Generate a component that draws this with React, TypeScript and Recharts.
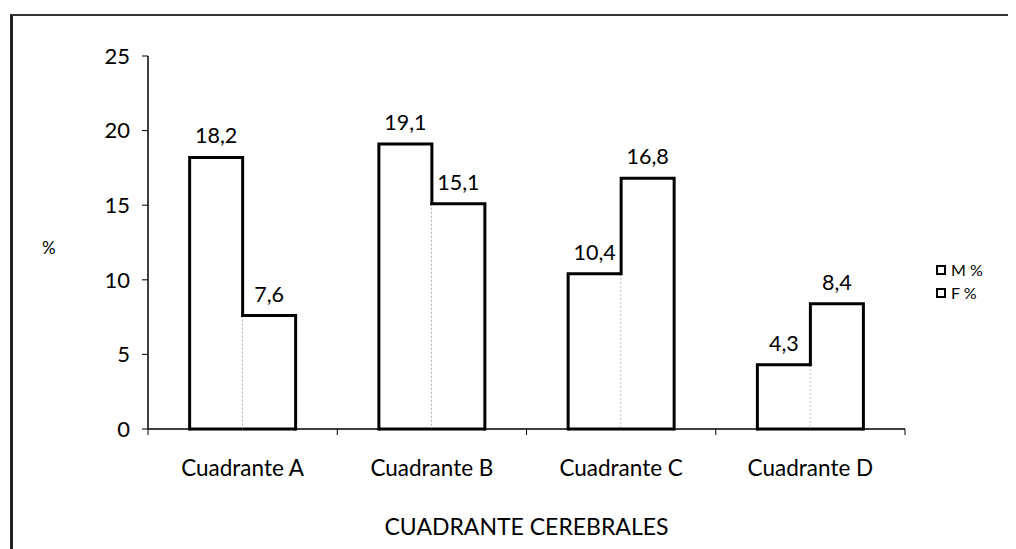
import { BarChart, Bar, XAxis, YAxis, LabelList } from 'recharts';

const categories = ['Cuadrante A', 'Cuadrante B', 'Cuadrante C', 'Cuadrante D'];
const mValues = [18.2, 19.1, 10.4, 4.3];
const fValues = [7.6, 15.1, 16.8, 8.4];
const yTicks = [0, 5, 10, 15, 20, 25];
const seriesNames = { M: 'M %', F: 'F %' };

const data = categories.map((name, i) => ({ name, M: mValues[i], F: fValues[i] }));

const FONT = 'Lato, "Open Sans", sans-serif';
const CHART_W = 1008;
const CHART_H = 541;
const MARGIN = { top: 48, right: 111, bottom: 0, left: 0 };
const Y_AXIS_W = 140;
const X_LABEL_GAP = 31;

// white box with a heavy outline; the edge shared by the two bars is a thin dotted line
function OutlinedBar(props: any) {
  const { x, y, width, height, payload, dataKey } = props;
  if (!height || height <= 0) return null;
  const other = dataKey === 'M' ? 'F' : 'M';
  const bottom = y + height;
  const otherTop = bottom - (height * payload[other]) / payload[dataKey];
  const isLeft = dataKey === 'M';
  const inner = isLeft ? x + width : x;
  const outer = isLeft ? x : x + width;
  let d = `M${outer},${bottom} L${outer},${y} L${inner},${y}`;
  if (otherTop > y) d += ` L${inner},${otherTop}`;
  return (
    <g>
      <rect x={x} y={y} width={width} height={height} fill="#fff" />
      <path d={d} fill="none" stroke="#000" strokeWidth={3} strokeLinecap="square" />
      <line x1={x} y1={bottom} x2={x + width} y2={bottom} stroke="#000" strokeWidth={3} />
      {isLeft && (
        <line
          x1={inner}
          y1={Math.max(y, otherTop)}
          x2={inner}
          y2={bottom}
          stroke="#777"
          strokeWidth={1}
          strokeDasharray="2 2"
        />
      )}
    </g>
  );
}

// category label plus tick marks on the band edges (Excel style)
function CategoryTick(props: any) {
  const { x, y, payload, index, visibleTicksCount } = props;
  const plotW = CHART_W - MARGIN.left - MARGIN.right - Y_AXIS_W;
  const half = payload && payload.offset ? payload.offset : plotW / categories.length / 2;
  const axisY = y - X_LABEL_GAP;
  const last = index === (visibleTicksCount ?? categories.length) - 1;
  return (
    <g>
      <line x1={x - half} y1={axisY} x2={x - half} y2={axisY + 6} stroke="#000" />
      {last && <line x1={x + half} y1={axisY} x2={x + half} y2={axisY + 6} stroke="#000" />}
      <text x={x} y={y} dy="0.71em" textAnchor="middle" fill="#000" fontSize={22.5} fontFamily={FONT}>
        {payload.value}
      </text>
    </g>
  );
}

function LegendBox() {
  return (
    <div style={{ position: 'absolute', left: 928, top: 250, fontFamily: FONT, fontSize: 16, color: '#000' }}>
      {(['M', 'F'] as const).map((k) => (
        <div key={k} style={{ display: 'flex', alignItems: 'center', height: 23 }}>
          <span
            style={{
              display: 'inline-block',
              width: 6,
              height: 6,
              border: '2.5px solid #000',
              background: '#fff',
              marginRight: 5,
            }}
          />
          {seriesNames[k]}
        </div>
      ))}
    </div>
  );
}

const valueLabel = (v: any) => String(v).replace('.', ',');

export default function App() {
  return (
    <div style={{ position: 'relative', width: CHART_W, height: CHART_H, overflow: 'hidden', background: '#fff' }}>
      <div
        style={{
          position: 'absolute',
          left: 2,
          top: 6,
          width: 1020,
          height: 600,
          borderLeft: '3px solid #222',
          borderTop: '2px solid #333',
        }}
      />
      <div style={{ position: 'absolute', left: 0, top: 0 }}>
        <BarChart
          width={CHART_W}
          height={CHART_H}
          data={data}
          margin={MARGIN}
          barCategoryGap="22%"
          barGap={0}
          style={{ fontFamily: FONT }}
        >
          <XAxis
            dataKey="name"
            height={120}
            axisLine={{ stroke: '#000', strokeWidth: 1.5 }}
            tickLine={false}
            tickSize={0}
            tickMargin={X_LABEL_GAP}
            interval={0}
            tick={<CategoryTick />}
            label={{
              value: 'CUADRANTE CEREBRALES',
              position: 'insideBottom',
              offset: 14,
              fill: '#000',
              fontSize: 23,
            }}
          />
          <YAxis
            width={Y_AXIS_W}
            domain={[0, 25]}
            ticks={yTicks}
            interval={0}
            axisLine={{ stroke: '#000', strokeWidth: 1.5 }}
            tickLine={{ stroke: '#000' }}
            tickSize={6}
            tickMargin={12}
            tick={{ fill: '#000', fontSize: 22 }}
            label={{
              content: (p: any) => {
                const vb = p.viewBox || {};
                return (
                  <text x={vb.x + 34} y={vb.y + vb.height * 0.52} fill="#000" fontSize={17} dominantBaseline="middle">
                    %
                  </text>
                );
              },
            }}
          />
          <Bar dataKey="M" name={seriesNames.M} shape={<OutlinedBar />} isAnimationActive={false}>
            <LabelList dataKey="M" position="top" offset={14} fill="#000" fontSize={21.5} formatter={valueLabel} />
          </Bar>
          <Bar dataKey="F" name={seriesNames.F} shape={<OutlinedBar />} isAnimationActive={false}>
            <LabelList dataKey="F" position="top" offset={14} fill="#000" fontSize={21.5} formatter={valueLabel} />
          </Bar>
        </BarChart>
      </div>
      <LegendBox />
    </div>
  );
}
